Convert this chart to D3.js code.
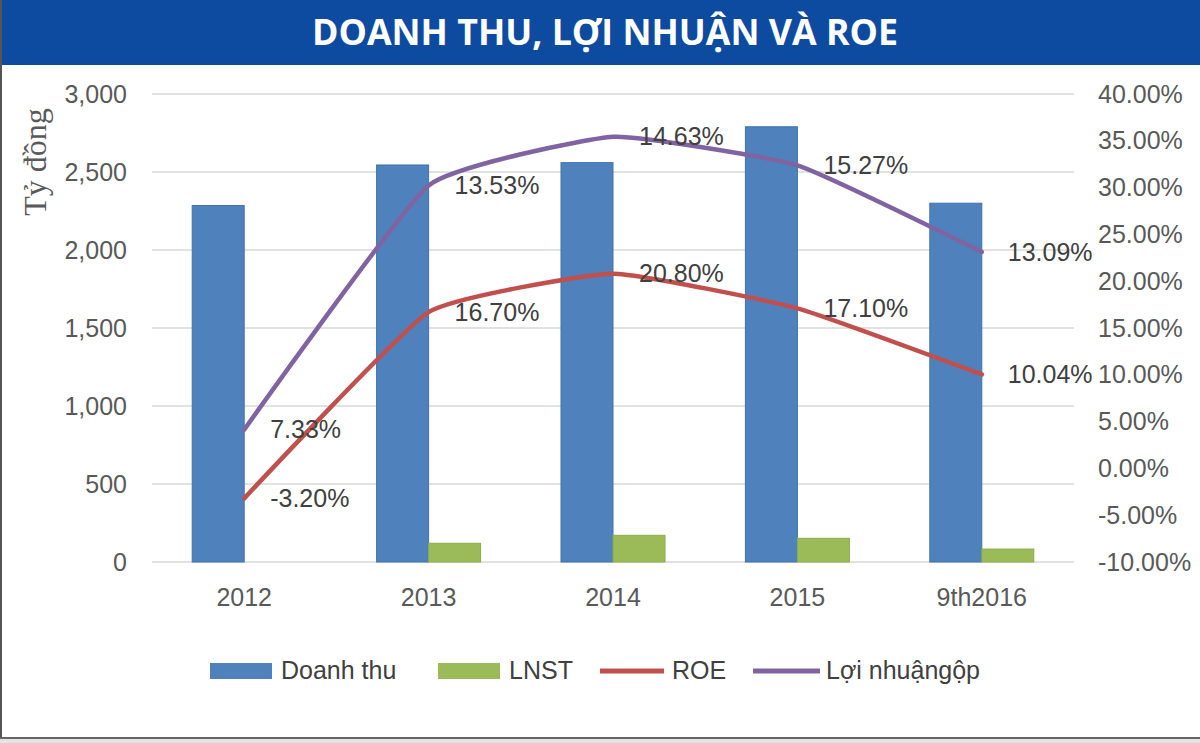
<!DOCTYPE html>
<html>
<head>
<meta charset="utf-8">
<script src="https://cdn.jsdelivr.net/npm/d3@7"></script>
<style>
  html, body { margin: 0; padding: 0; background: #ffffff; }
  svg { display: block; }
</style>
</head>
<body>
<svg id="chart" width="1200" height="743"></svg>
<script>
// ---------- data ----------
const titleText = "DOANH THU, LỢI NHUẬN VÀ ROE";
const categories = ["2012", "2013", "2014", "2015", "9th2016"];
const doanhThu = [2285, 2545, 2560, 2790, 2300];      // Tỷ đồng
const lnst = [0, 120, 171, 152, 83];                   // Tỷ đồng
const roe = [-3.20, 16.70, 20.80, 17.10, 10.04];       // %
const loiNhuanGop = [7.33, 13.53, 14.63, 15.27, 13.09]; // % (stacked on ROE)
const leftTicks = [0, 500, 1000, 1500, 2000, 2500, 3000];
const rightTicks = [-10, -5, 0, 5, 10, 15, 20, 25, 30, 35, 40];
const legendLabels = ["Doanh thu", "LNST", "ROE", "Lợi nhuậngộp"];
const yAxisTitle = "Tỷ đồng";

// ---------- layout ----------
const svg = d3.select("#chart");
const W = 1200, H = 743;
const plot = { left: 152, right: 1074, top: 94, bottom: 562 };
const colors = { blue: "#4f81bd", green: "#9bbb59", red: "#c0504d", purple: "#8064a2" };
const axisFont = "'Liberation Sans', Arial, sans-serif";

// background + borders
svg.append("rect").attr("x", 0).attr("y", 0).attr("width", W).attr("height", H).attr("fill", "#ffffff");
svg.append("rect").attr("x", 0).attr("y", 0).attr("width", W).attr("height", 65).attr("fill", "#0d4ba0");
svg.append("line").attr("x1", 1).attr("x2", 1).attr("y1", 0).attr("y2", 738)
  .attr("stroke", "#555").attr("stroke-width", 2);
svg.append("line").attr("x1", 0).attr("x2", W).attr("y1", 738).attr("y2", 738)
  .attr("stroke", "#666").attr("stroke-width", 2);
svg.append("rect").attr("x", 0).attr("y", 739).attr("width", W).attr("height", 4).attr("fill", "#e4e4e4");

// title
svg.append("text")
  .attr("x", 605).attr("y", 45)
  .attr("text-anchor", "middle")
  .attr("font-family", "'Open Sans', 'Noto Sans', sans-serif")
  .attr("font-weight", "bold")
  .attr("font-size", 35)
  .attr("fill", "#ffffff")
  .attr("textLength", 586)
  .attr("lengthAdjust", "spacingAndGlyphs")
  .text(titleText);

// scales
const x = d3.scaleBand().domain(categories).range([plot.left, plot.right]).paddingInner(0).paddingOuter(0);
const yL = d3.scaleLinear().domain([0, 3000]).range([plot.bottom, plot.top]);
const yR = d3.scaleLinear().domain([-10, 40]).range([plot.bottom, plot.top]);
const barW = 52;
const cx = c => x(c) + x.bandwidth() / 2;

// gridlines
svg.append("g").selectAll("line").data(leftTicks).join("line")
  .attr("x1", plot.left).attr("x2", plot.right)
  .attr("y1", d => yL(d)).attr("y2", d => yL(d))
  .attr("stroke", "#d9d9d9").attr("stroke-width", 1.5);

// left axis
const leftAxis = d3.axisLeft(yL).tickValues(leftTicks).tickFormat(d3.format(",")).tickSize(0).tickPadding(0);
const gL = svg.append("g").attr("transform", `translate(127,0)`).call(leftAxis);
gL.select(".domain").remove();
gL.selectAll("text").attr("font-family", axisFont).attr("font-size", 25).attr("fill", "#595959");

// right axis
const rightAxis = d3.axisRight(yR).tickValues(rightTicks).tickFormat(d => d.toFixed(2) + "%").tickSize(0).tickPadding(0);
const gR = svg.append("g").attr("transform", `translate(1098,0)`).call(rightAxis);
gR.select(".domain").remove();
gR.selectAll("text").attr("font-family", axisFont).attr("font-size", 25).attr("fill", "#595959");

// x axis labels
const xAxis = d3.axisBottom(x).tickSize(0).tickPadding(0);
const gX = svg.append("g").attr("transform", `translate(0,${plot.bottom + 26})`).call(xAxis);
gX.select(".domain").remove();
gX.selectAll("text").attr("font-family", axisFont).attr("font-size", 25).attr("fill", "#595959");

// y axis title
svg.append("text")
  .attr("transform", "translate(46,162) rotate(-90)")
  .attr("text-anchor", "middle")
  .attr("font-family", "'Liberation Serif', 'Times New Roman', serif")
  .attr("font-size", 32)
  .attr("fill", "#595959")
  .text(yAxisTitle);

// bars
svg.append("g").selectAll("rect").data(categories).join("rect")
  .attr("x", d => cx(d) - barW)
  .attr("y", (d, i) => yL(doanhThu[i]))
  .attr("width", barW)
  .attr("height", (d, i) => yL(0) - yL(doanhThu[i]))
  .attr("fill", colors.blue).attr("stroke", "#3f72ae").attr("stroke-width", 1);

svg.append("g").selectAll("rect").data(categories).join("rect")
  .attr("x", d => cx(d))
  .attr("y", (d, i) => yL(lnst[i]))
  .attr("width", barW)
  .attr("height", (d, i) => yL(0) - yL(lnst[i]))
  .attr("fill", colors.green).attr("stroke", "#8cac4c").attr("stroke-width", (d, i) => lnst[i] > 0 ? 1 : 0);

// stacked lines (ROE, then Lợi nhuận gộp stacked on top)
const stackRows = categories.map((c, i) => ({ cat: c, roe: roe[i], gop: loiNhuanGop[i] }));
const stacked = d3.stack().keys(["roe", "gop"]).offset(d3.stackOffsetNone)(stackRows);
const line = d3.line().x(d => cx(d.data.cat)).y(d => yR(d[1])).curve(d3.curveCardinal.tension(0.6));
const lineColors = [colors.red, colors.purple];
const lineLabels = [roe, loiNhuanGop];

stacked.forEach((s, k) => {
  svg.append("path").datum(s).attr("d", line)
    .attr("fill", "none").attr("stroke", lineColors[k]).attr("stroke-width", 4.5)
    .attr("stroke-linejoin", "round").attr("stroke-linecap", "round");
});
stacked.forEach((s, k) => {
  svg.append("g").selectAll("text").data(s).join("text")
    .attr("x", d => cx(d.data.cat) + 26)
    .attr("y", d => yR(d[1]) + 2)
    .attr("dominant-baseline", "middle")
    .attr("font-family", axisFont).attr("font-size", 25).attr("fill", "#404040")
    .text((d, i) => lineLabels[k][i].toFixed(2) + "%");
});

// legend
const legendY = 671;
const legendItems = [
  { type: "rect", color: colors.blue, x0: 210, x1: 272, tx: 281 },
  { type: "rect", color: colors.green, x0: 438, x1: 500, tx: 509 },
  { type: "line", color: colors.red, x0: 600, x1: 664, tx: 672 },
  { type: "line", color: colors.purple, x0: 753, x1: 820, tx: 826 }
];
const lg = svg.append("g");
legendItems.forEach((it, i) => {
  if (it.type === "rect") {
    lg.append("rect").attr("x", it.x0).attr("y", legendY - 8).attr("width", it.x1 - it.x0).attr("height", 16)
      .attr("fill", it.color);
  } else {
    lg.append("line").attr("x1", it.x0).attr("x2", it.x1).attr("y1", legendY).attr("y2", legendY)
      .attr("stroke", it.color).attr("stroke-width", 5);
  }
  lg.append("text").attr("x", it.tx).attr("y", legendY + 1)
    .attr("dominant-baseline", "middle")
    .attr("font-family", axisFont).attr("font-size", 25).attr("fill", "#404040")
    .text(legendLabels[i]);
});
</script>
</body>
</html>
